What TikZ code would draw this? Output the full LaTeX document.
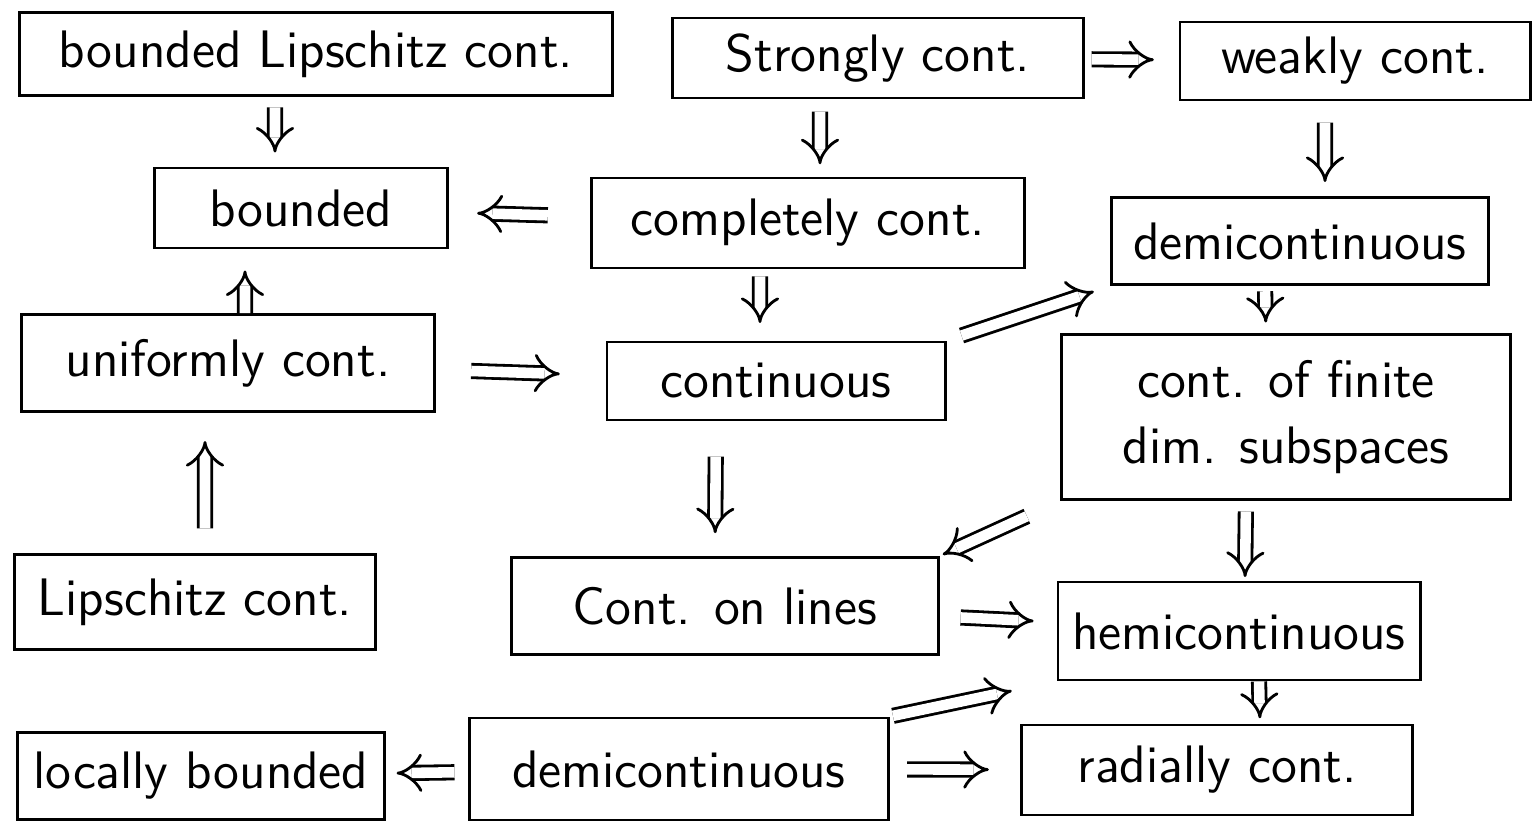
\documentclass[tikz,border=0pt]{standalone}
\usetikzlibrary{arrows.meta}
\begin{document}
\begin{tikzpicture}[x=0.01cm,y=-0.01cm,font=\sffamily\fontsize{15}{19}\selectfont,
	box/.style={draw,line width=0.8pt,inner sep=2pt,align=center},
	implies/.style={double,double distance=3pt,line width=0.8pt,-{Implies}}]
	\useasboundingbox (0,0) rectangle (1539,837);
	% top row
	\node[box,minimum width=5.92cm,minimum height=0.83cm] (blip) at (316,54) {bounded Lipschitz cont.};
	\node[box,minimum width=4.10cm,minimum height=0.80cm] (strong) at (878,58) {Strongly cont.};
	\node[box,minimum width=3.50cm,minimum height=0.78cm] (weak) at (1355,61) {weakly cont.};
	% second row
	\node[box,minimum width=2.93cm,minimum height=0.80cm] (bnd) at (301,208) {bounded};
	\node[box,minimum width=4.33cm,minimum height=0.90cm] (compl) at (808,223) {completely cont.};
	\node[box,minimum width=3.76cm,minimum height=0.87cm] (demi) at (1300,241) {demicontinuous};
	% third row
	\node[box,minimum width=4.13cm,minimum height=0.97cm] (unif) at (228,363) {uniformly cont.};
	\node[box,minimum width=3.38cm,minimum height=0.78cm] (cont) at (776,381) {continuous};
	\node[box,minimum width=4.48cm,minimum height=1.65cm] (fin) at (1286,417) {cont. of finite\\dim. subspaces};
	% fourth row
	\node[box,minimum width=3.60cm,minimum height=0.95cm] (lip) at (195,602) {Lipschitz cont.};
	\node[box,minimum width=4.26cm,minimum height=0.97cm] (lines) at (725,606) {Cont. on lines};
	\node[box,minimum width=3.62cm,minimum height=0.98cm] (hemi) at (1239,631) {hemicontinuous};
	% bottom row
	\node[box,minimum width=3.67cm,minimum height=0.87cm] (loc) at (201,776) {locally bounded};
	\node[box,minimum width=4.18cm,minimum height=1.02cm] (demib) at (679,769) {demicontinuous};
	\node[box,minimum width=3.90cm,minimum height=0.90cm] (rad) at (1217,770) {radially cont.};
	% implications
	\draw[implies,shorten <=3pt,shorten >=4pt] ([xshift=-0.41cm]blip.south) -- ([xshift=-0.26cm]bnd.north);
	\draw[implies,shorten <=2pt,shorten >=7pt] (strong) -- (weak);
	\draw[implies,shorten <=3.5pt,shorten >=3.5pt] ([xshift=-0.58cm]strong.south) -- ([xshift=0.12cm]compl.north);
	\draw[implies,shorten <=6pt,shorten >=4pt] ([xshift=-0.3cm]weak.south) -- ([xshift=0.25cm]demi.north);
	\draw[implies,shorten <=12pt,shorten >=8pt] (compl) -- (bnd);
	\draw[implies,shorten <=2pt,shorten >=5pt] ([xshift=-0.48cm]compl.south) -- ([xshift=-0.16cm]cont.north);
	\draw[implies,shorten <=0pt,shorten >=6pt] ([xshift=0.17cm]unif.north) -- ([xshift=-0.56cm]bnd.south);
	\draw[implies,shorten <=10pt,shorten >=13pt] (unif) -- (cont);
	\draw[implies,shorten <=4.5pt,shorten >=5pt] (cont.north east) -- (demi.south west);
	\draw[implies,shorten <=1.5pt,shorten >=3pt] ([xshift=-0.35cm]demi.south) -- ([xshift=-0.2cm]fin.north);
	\draw[implies,shorten <=10pt,shorten >=6.5pt] ([xshift=-0.6cm]cont.south) -- ([xshift=-0.1cm]lines.north);
	\draw[implies,shorten <=10.5pt,shorten >=1pt] (fin.south west) -- (lines.north east);
	\draw[implies,shorten <=3pt,shorten >=1pt] ([xshift=-0.4cm]fin.south) -- ([xshift=0.06cm]hemi.north);
	\draw[implies,shorten <=7pt,shorten >=8pt] ([xshift=0.1cm]lip.north) -- ([xshift=-0.23cm]unif.south);
	\draw[implies,shorten <=6pt,shorten >=6.5pt] (lines) -- (hemi);
	\draw[implies,shorten <=0pt,shorten >=1.5pt] ([xshift=0.2cm]hemi.south) -- ([xshift=0.43cm]rad.north);
	\draw[implies,shorten <=1pt,shorten >=13pt] (demib.north east) -- (hemi.south west);
	\draw[implies,shorten <=4pt,shorten >=3pt] (demib) -- (loc);
	\draw[implies,shorten <=5pt,shorten >=9pt] (demib) -- (rad);
\end{tikzpicture}
\end{document}
